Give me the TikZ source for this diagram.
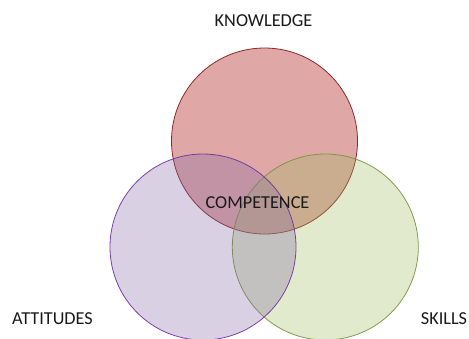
\documentclass[tikz,border=0pt]{standalone}
\usepackage{fontspec}
\setmainfont{Carlito}
\definecolor{kfill}{HTML}{C0504D}
\definecolor{kline}{HTML}{8C2A28}
\definecolor{afill}{HTML}{8064A2}
\definecolor{aline}{HTML}{7030A0}
\definecolor{sfill}{HTML}{9BBB59}
\definecolor{sline}{HTML}{77933C}
\begin{document}
\begin{tikzpicture}[x=1bp,y=-1bp,
  setc/.style={circle,minimum size=186bp,inner sep=0pt,line width=0.8bp},
  lbl/.style={font=\fontsize{18.3}{22}\selectfont,anchor=base,inner sep=0pt,text=black!90}]
\useasboundingbox (0,0) rectangle (469,338);
\clip (0,0) rectangle (469,338);
\node[setc,fill=kfill,fill opacity=0.5,draw=kline] (know) at (264.5,141) {};
\node[setc,fill=sfill,fill opacity=0.3,draw=sline,draw opacity=0.9] (skill) at (325.3,247) {};
\node[setc,fill=afill,fill opacity=0.3,draw=aline,draw opacity=0.9] (att) at (203,247) {};
\node[lbl] (kl) at (263.5,26.7) {KNOWLEDGE};
\node[lbl] (al) at (52.5,324.3) {ATTITUDES};
\node[lbl] (sl) at (444,324.3) {SKILLS};
\node[lbl] (cl) at (257.5,208.3) {COMPETENCE};
\end{tikzpicture}
\end{document}
